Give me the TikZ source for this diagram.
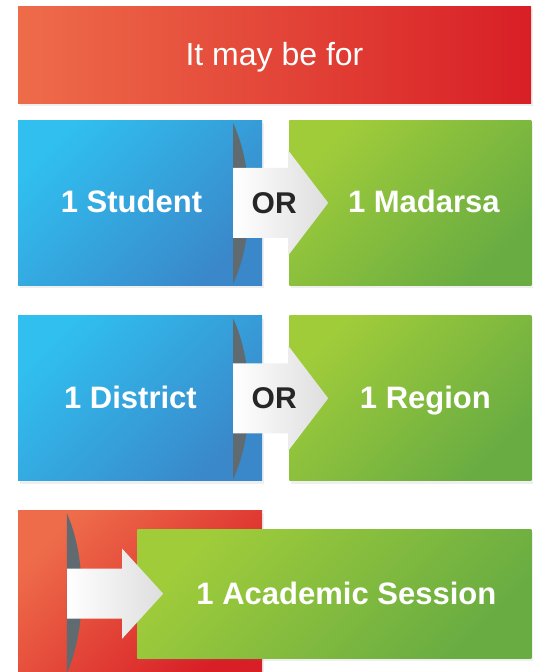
\documentclass[tikz,border=0pt]{standalone}
\usepackage{fontspec}
\setmainfont{Liberation Sans}
\usetikzlibrary{positioning,shadows}

\definecolor{redlight}{HTML}{EE6C4A}
\definecolor{reddark}{HTML}{D81F26}
\definecolor{bluelight}{HTML}{30BFEF}
\definecolor{bluedark}{HTML}{3A87C9}
\definecolor{greenlight}{HTML}{A0CC3A}
\definecolor{greendark}{HTML}{68AC42}
\definecolor{lensgray}{HTML}{5F6B70}

\tikzset{
  box/.style={rectangle, inner sep=0pt, minimum height=165pt,
    drop shadow={shadow xshift=2pt, shadow yshift=-3pt, opacity=.12}},
  banner/.style={box, minimum width=513pt, minimum height=97pt,
    left color=redlight, right color=reddark, text=white,
    font=\fontsize{32}{38}\selectfont},
  bluebox/.style={box, minimum width=244pt,
    top color=bluelight, bottom color=bluedark, shading angle=45},
  greenbox/.style={box, minimum width=242pt,
    top color=greenlight, bottom color=greendark, shading angle=45},
  redbox/.style={box, minimum width=244pt, minimum height=163pt,
    top color=redlight, bottom color=reddark, shading angle=45},
  boxtext/.style={text=white, inner sep=0pt, text height=22pt, text depth=0pt,
    font=\bfseries\fontsize{31}{36}\selectfont},
  ortext/.style={text=black!85, font=\bfseries\fontsize{30}{34}\selectfont},
  lens/.style={fill=lensgray},
  blockarrow/.style={left color=white, right color=black!13},
}

\begin{document}
\begin{tikzpicture}

  \useasboundingbox[fill=white] (0pt,0pt) rectangle (538pt,-672pt);

  % Define nodes
  \node[banner, label={[text=white, font=\fontsize{32}{38}\selectfont, yshift=-3pt]center:It may be for}]
    (banner) at (274.5pt,-54.5pt) {};
  \node[bluebox, below=17pt of banner.south west, anchor=north west,
    label={[boxtext, xshift=-8.5pt, yshift=1pt]center:1 Student}] (student) {};
  \node[greenbox, right=27pt of student,
    label={[boxtext, xshift=13.5pt, yshift=1pt]center:1 Madarsa}] (madarsa) {};
  \node[bluebox, below=30pt of student,
    label={[boxtext, xshift=-9.5pt, yshift=1pt]center:1 District}] (district) {};
  \node[greenbox, right=27pt of district,
    label={[boxtext, xshift=15pt, yshift=1pt]center:1 Region}] (region) {};
  \node[redbox, below=29pt of district.south west, anchor=north west] (academic) {};
  \node[greenbox, minimum width=394pt, minimum height=129pt,
    below=48pt of region.south east, anchor=north east,
    label={[boxtext, xshift=12pt]center:1 Academic Session}] (session) {};

  % Lenses
  \fill[lens] ([xshift=-29pt,yshift=-3pt]student.north east)
    .. controls +(21pt,-45pt) and +(21pt,45pt) .. ([xshift=-29pt,yshift=2pt]student.south east) -- cycle;
  \fill[lens] ([xshift=-29pt,yshift=-3pt]district.north east)
    .. controls +(21pt,-45pt) and +(21pt,45pt) .. ([xshift=-29pt,yshift=2pt]district.south east) -- cycle;
  \fill[lens] ([xshift=49pt,yshift=-3pt]academic.north west)
    .. controls +(20pt,-45pt) and +(20pt,45pt) .. ([xshift=49pt]academic.south west) -- cycle;

  % Connect the nodes
  \shade[blockarrow] ([xshift=-29pt,yshift=35pt]student.east) -- ([xshift=-1pt,yshift=35pt]madarsa.west)
    -- ([xshift=-1pt,yshift=52.5pt]madarsa.west) -- ([xshift=39pt]madarsa.west)
    -- ([xshift=-1pt,yshift=-52.5pt]madarsa.west) -- ([xshift=-1pt,yshift=-35pt]madarsa.west)
    -- ([xshift=-29pt,yshift=-35pt]student.east) -- cycle;
  \shade[blockarrow] ([xshift=-29pt,yshift=35pt]district.east) -- ([xshift=-1pt,yshift=35pt]region.west)
    -- ([xshift=-1pt,yshift=52.5pt]region.west) -- ([xshift=39pt]region.west)
    -- ([xshift=-1pt,yshift=-52.5pt]region.west) -- ([xshift=-1pt,yshift=-35pt]region.west)
    -- ([xshift=-29pt,yshift=-35pt]district.east) -- cycle;
  \shade[blockarrow] ([xshift=-70pt,yshift=25pt]session.west) -- ([xshift=-15pt,yshift=25pt]session.west)
    -- ([xshift=-15pt,yshift=45pt]session.west) -- ([xshift=26pt]session.west)
    -- ([xshift=-15pt,yshift=-45pt]session.west) -- ([xshift=-15pt,yshift=-25pt]session.west)
    -- ([xshift=-70pt,yshift=-25pt]session.west) -- cycle;

  \node[ortext] (or1) at ([xshift=12pt]student.east) {OR};
  \node[ortext] (or2) at ([xshift=12pt]district.east) {OR};

\end{tikzpicture}
\end{document}
